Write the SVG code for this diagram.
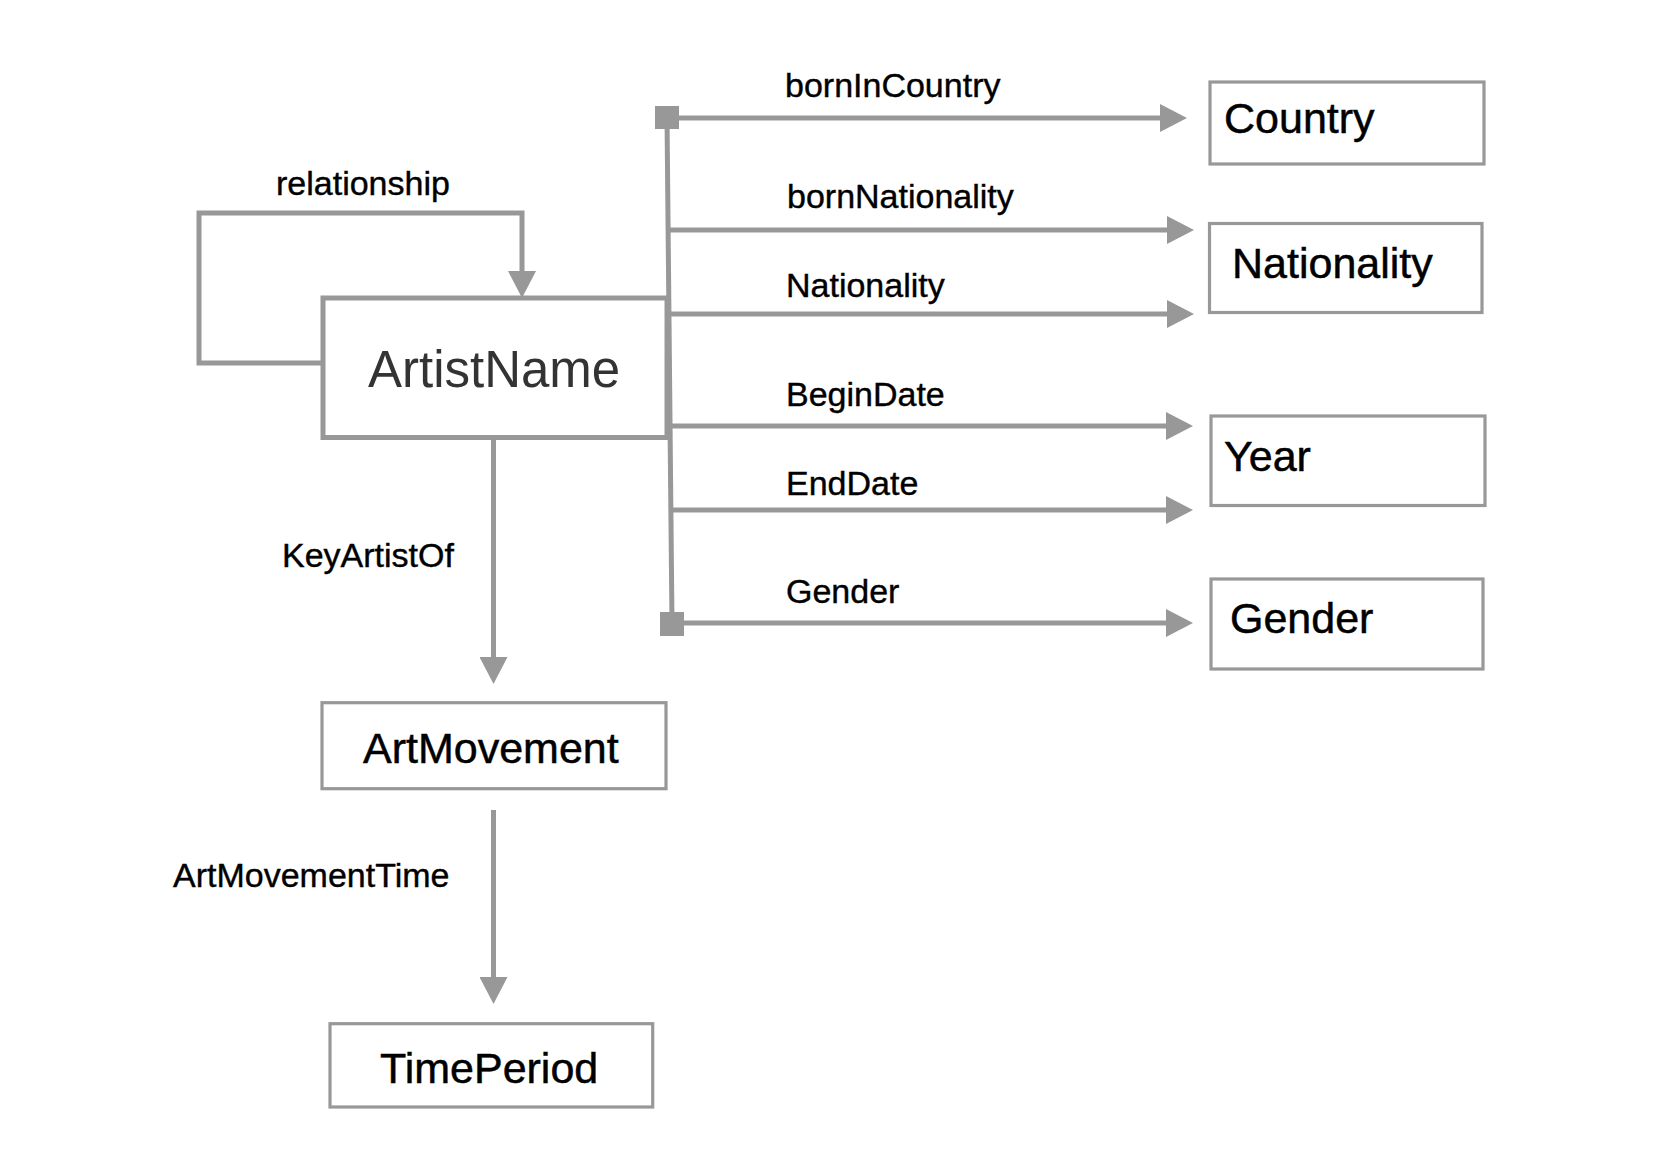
<svg xmlns="http://www.w3.org/2000/svg" width="1673" height="1162" viewBox="0 0 1673 1162">
<style>
.box{fill:#fff;stroke:#989898;stroke-width:3.2}
.main{fill:#fff;stroke:#989898;stroke-width:5}
.ntext{font-family:"Liberation Sans",Arial,sans-serif;font-size:43px;fill:#000;stroke:#000;stroke-width:0.5}
.lbl{font-family:"Liberation Sans",Arial,sans-serif;font-size:34px;fill:#000;stroke:#000;stroke-width:0.4}
.con{fill:none;stroke:#989898;stroke-width:5}
.arr{marker-end:url(#ah)}
.sq{fill:#989898}
</style>
<defs>
<marker id="ah" viewBox="0 0 27 28" refX="0" refY="14" markerWidth="27" markerHeight="28" markerUnits="userSpaceOnUse" orient="auto">
<polygon points="0,0 27,14 0,28" fill="#989898"/>
</marker>
</defs>
<rect width="1673" height="1162" fill="#fff"/>
<g id="connectors">
<path class="con" d="M667 117 L672 624"/>
<path class="con arr" d="M323 363 H199 V213 H522 V271"/>
<path class="con arr" d="M667 118 H1160"/>
<path class="con arr" d="M668 230 H1167"/>
<path class="con arr" d="M669 314 H1167"/>
<path class="con arr" d="M670 426 H1166"/>
<path class="con arr" d="M671 510 H1166"/>
<path class="con arr" d="M672 623 H1166"/>
<path class="con arr" d="M493.5 440 V657"/>
<path class="con arr" d="M493.5 810 V977"/>
<rect class="sq" x="655" y="106" width="24" height="23"/>
<rect class="sq" x="660" y="612" width="24" height="24"/>
<text class="lbl" x="276" y="195">relationship</text>
<text class="lbl" x="785" y="97">bornInCountry</text>
<text class="lbl" x="787" y="208">bornNationality</text>
<text class="lbl" x="786" y="297">Nationality</text>
<text class="lbl" x="786" y="406">BeginDate</text>
<text class="lbl" x="786" y="495">EndDate</text>
<text class="lbl" x="786" y="603">Gender</text>
<text class="lbl" x="282" y="567">KeyArtistOf</text>
<text class="lbl" x="173" y="887">ArtMovementTime</text>
</g>
<g id="ArtistName">
<rect class="main" x="323" y="298" width="344" height="139.5"/>
<text x="368" y="387" font-family="Liberation Sans, Arial, sans-serif" font-size="51" fill="#333">ArtistName</text>
</g>
<g id="Country">
<rect class="box" x="1210" y="82" width="274" height="82"/>
<text class="ntext" x="1224" y="133">Country</text>
</g>
<g id="Nationality">
<rect class="box" x="1209.5" y="223.5" width="272.5" height="89"/>
<text class="ntext" x="1232" y="278">Nationality</text>
</g>
<g id="Year">
<rect class="box" x="1211" y="416" width="274" height="89.5"/>
<text class="ntext" x="1224" y="471">Year</text>
</g>
<g id="Gender">
<rect class="box" x="1211" y="579" width="272" height="90"/>
<text class="ntext" x="1230" y="633">Gender</text>
</g>
<g id="ArtMovement">
<rect class="box" x="322" y="702.7" width="344" height="86"/>
<text class="ntext" x="363" y="763">ArtMovement</text>
</g>
<g id="TimePeriod">
<rect class="box" x="330" y="1023.7" width="322.7" height="83.3"/>
<text class="ntext" x="380" y="1083">TimePeriod</text>
</g>
</svg>
